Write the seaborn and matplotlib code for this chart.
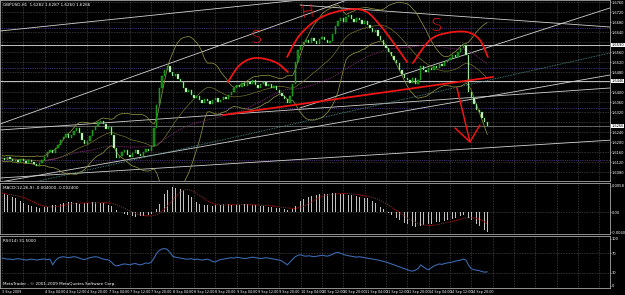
import numpy as np
import pandas as pd
import matplotlib
matplotlib.use("Agg")
import matplotlib.pyplot as plt
import matplotlib.transforms as mtransforms
import seaborn as sns

# ---------------- data (GBPUSD, H1) ----------------
close = [
    1.6138, 1.6130, 1.6142, 1.6134, 1.6126, 1.6130, 1.6122, 1.6134, 1.6126, 1.6118,
    1.6130, 1.6122, 1.6114, 1.6106, 1.6118, 1.6130, 1.6142, 1.6162, 1.6170, 1.6158,
    1.6178, 1.6190, 1.6210, 1.6222, 1.6234, 1.6218, 1.6230, 1.6246, 1.6258, 1.6238,
    1.6210, 1.6194, 1.6206, 1.6226, 1.6250, 1.6266, 1.6282, 1.6286, 1.6274, 1.6254,
    1.6262, 1.6230, 1.6178, 1.6138, 1.6146, 1.6162, 1.6170, 1.6150, 1.6142, 1.6158,
    1.6170, 1.6154, 1.6146, 1.6162, 1.6174, 1.6166, 1.6186, 1.6258, 1.6350, 1.6418,
    1.6466, 1.6490, 1.6506, 1.6482, 1.6466, 1.6474, 1.6454, 1.6442, 1.6418, 1.6402,
    1.6410, 1.6390, 1.6378, 1.6386, 1.6370, 1.6358, 1.6374, 1.6366, 1.6354, 1.6370,
    1.6378, 1.6362, 1.6370, 1.6382, 1.6374, 1.6390, 1.6402, 1.6418, 1.6430, 1.6422,
    1.6438, 1.6426, 1.6442, 1.6434, 1.6450, 1.6430, 1.6418, 1.6434, 1.6442, 1.6426,
    1.6434, 1.6418, 1.6426, 1.6410, 1.6398, 1.6386, 1.6374, 1.6358, 1.6386, 1.6434,
    1.6522, 1.6570, 1.6586, 1.6602, 1.6610, 1.6598, 1.6618, 1.6606, 1.6594, 1.6614,
    1.6622, 1.6610, 1.6598, 1.6606, 1.6634, 1.6666, 1.6686, 1.6698, 1.6682, 1.6702,
    1.6710, 1.6694, 1.6682, 1.6698, 1.6690, 1.6674, 1.6686, 1.6670, 1.6658, 1.6642,
    1.6650, 1.6626, 1.6610, 1.6590, 1.6578, 1.6562, 1.6546, 1.6530, 1.6518, 1.6490,
    1.6474, 1.6458, 1.6450, 1.6438, 1.6458, 1.6434, 1.6450, 1.6506, 1.6490, 1.6482,
    1.6498, 1.6490, 1.6506, 1.6498, 1.6514, 1.6506, 1.6522, 1.6530, 1.6538, 1.6550,
    1.6542, 1.6562, 1.6578, 1.6590, 1.6550, 1.6402, 1.6378, 1.6354, 1.6330, 1.6322,
    1.6298, 1.6282, 1.6266,
]

macd = [
    0.0038, 0.0036, 0.0034, 0.0032, 0.0030, 0.0028,
    0.0024, 0.0022, 0.0018, 0.0016, 0.0014, 0.0012, 0.0010,
    0.0010, 0.0008, 0.0008, 0.0010, 0.0010, 0.0012,
    0.0014, 0.0014, 0.0016, 0.0016, 0.0018, 0.0018, 0.0020, 0.0020, 0.0018, 0.0018,
    0.0016, 0.0016, 0.0018, 0.0018, 0.0020, 0.0020, 0.0020, 0.0020, 0.0018, 0.0018,
    0.0016, 0.0014, 0.0012,
    0.0008, 0.0004, 0.0000, -0.0002, -0.0004,
    -0.0006, -0.0008, -0.0008, -0.0010, -0.0010, -0.0008, -0.0008, -0.0006, -0.0006,
    -0.0004, -0.0002,
    0.0006, 0.0016, 0.0026, 0.0036, 0.0044, 0.0048,
    0.0050, 0.0048, 0.0048, 0.0046, 0.0044,
    0.0040, 0.0034, 0.0030, 0.0024, 0.0020, 0.0016,
    0.0016, 0.0014, 0.0014, 0.0012, 0.0012, 0.0014, 0.0014, 0.0014, 0.0016, 0.0016,
    0.0016, 0.0014, 0.0014, 0.0014, 0.0014, 0.0014, 0.0016, 0.0016, 0.0014, 0.0014,
    0.0014, 0.0012, 0.0012, 0.0012, 0.0012, 0.0010, 0.0010, 0.0010, 0.0008, 0.0008,
    0.0006, 0.0006, 0.0004, 0.0004, 0.0006,
    0.0012, 0.0018, 0.0022, 0.0026, 0.0028, 0.0030, 0.0032, 0.0034, 0.0034, 0.0036,
    0.0036, 0.0036, 0.0036, 0.0038, 0.0038, 0.0038, 0.0038, 0.0036, 0.0036, 0.0036,
    0.0034, 0.0034, 0.0032, 0.0032, 0.0030, 0.0030, 0.0028, 0.0028, 0.0026,
    0.0022, 0.0018, 0.0014, 0.0010, 0.0006, 0.0002,
    -0.0002, -0.0006, -0.0010, -0.0012, -0.0016,
    -0.0018, -0.0022, -0.0024, -0.0026, -0.0028, -0.0030, -0.0030, -0.0028,
    -0.0026, -0.0026, -0.0024, -0.0024, -0.0022, -0.0020, -0.0020, -0.0018, -0.0018,
    -0.0016, -0.0016,
    -0.0014, -0.0012, -0.0010, -0.0008, -0.0006, -0.0008, -0.0012,
    -0.0016, -0.0020, -0.0024, -0.0028, -0.0032, -0.0036, -0.0040,
]

rsi = [
    60, 59, 58, 58, 57, 58, 59, 58, 57, 56, 57, 58, 57, 56, 57, 58, 58, 57, 58,
    46,
    55, 60, 62, 63, 62, 61, 62, 63, 62, 60, 58, 57, 59, 61,
    62, 63, 62, 60, 58, 57, 56, 52, 46,
    44, 45, 47, 48,
    47, 46, 48, 49, 47, 46, 48, 50, 49, 52, 60, 70, 76,
    79, 80, 78, 72, 64, 62,
    61, 60, 59, 58, 58, 59, 57, 58, 57, 56, 57, 58, 56,
    53, 52, 55, 57,
    58, 59, 60, 61, 60, 62, 61, 60, 59, 60, 61, 62, 61, 60, 59, 60, 61, 60, 59, 58, 57, 56,
    54, 50, 46, 52, 58,
    63, 66, 67, 65, 64, 65,
    64, 63, 64, 65, 66, 65, 64, 66, 68,
    71, 72, 70, 68, 66,
    65, 64, 63, 62, 63, 62, 61, 60, 59, 58, 57,
    56, 55, 53, 52, 50, 48, 46,
    44, 42, 40, 38, 36, 34, 33, 35, 38,
    46,
    42, 38, 36,
    40, 44, 46, 48, 47, 49, 50, 51, 52, 54, 55, 56, 58, 56, 45,
    38, 36, 35, 34, 32, 31, 31.5,
]

tick_bars = [0, 16, 24, 32, 40, 48, 56, 64, 72, 80, 88, 96, 104, 112, 120,
             128, 136, 144, 152, 160, 168, 176]
tick_labels = ["3 Sep 2009", "4 Sep 04:00", "4 Sep 12:00", "4 Sep 20:00",
               "7 Sep 04:00", "7 Sep 12:00", "7 Sep 20:00", "8 Sep 04:00",
               "8 Sep 12:00", "8 Sep 20:00", "9 Sep 04:00", "9 Sep 12:00",
               "9 Sep 20:00", "10 Sep 04:00", "10 Sep 12:00", "10 Sep 20:00",
               "11 Sep 04:00", "11 Sep 12:00", "11 Sep 20:00", "14 Sep 04:00",
               "14 Sep 12:00", "14 Sep 20:00"]

price_levels = [1.6590, 1.6446]
pivot_levels = [1.6658, 1.6498, 1.6338, 1.6130]

# trend lines: (bar0, price0, bar1, price1)
trend_lines = [
    (-0.75, 1.6646, 111.7, 1.6770),
    (111.7, 1.6750, 228.0, 1.6662),
    (-0.75, 1.6274, 129.4, 1.6770),
    (111.7, 1.6338, 229.1, 1.6742),
    (-0.75, 1.6250, 228.0, 1.6418),
    (-0.75, 1.6042, 228.0, 1.6470),
    (-0.75, 1.6058, 229.1, 1.6210),
]
channel_line = (10.5, 1.6038, 228.0, 1.6558)

# hand-drawn head & shoulders annotation
ls_bars = [84.7, 89.2, 94.9, 102.4, 107.2]
ls_prices = [1.6442, 1.6510, 1.6538, 1.6522, 1.6482]
head_bars = [106.9, 111.7, 119.2, 128.6, 136.1, 141.7, 147.4, 151.9]
head_prices = [1.6542, 1.6630, 1.6698, 1.6730, 1.6726, 1.6670, 1.6590, 1.6522]
rs_bars = [154.1, 160.5, 166.9, 174.4, 179.2, 182.2]
rs_prices = [1.6518, 1.6610, 1.6638, 1.6642, 1.6610, 1.6542]
neck_bars = [82.9, 184.1]
neck_prices = [1.6310, 1.6462]
arrow_shaft_bars = [170.6, 175.5]
arrow_shaft_prices = [1.6418, 1.6202]
arrow_head_bars = [169.9, 175.5, 179.2]
arrow_head_prices = [1.6258, 1.6202, 1.6270]
letters = [("S", 95.2, 1.6618), ("H", 114.7, 1.6722), ("S", 162.7, 1.6666)]

# ---------------- style ----------------
sns.set_theme(style="dark", rc={
    "axes.facecolor": "black", "figure.facecolor": "black",
    "axes.edgecolor": "#a8a8a8", "text.color": "white",
    "xtick.color": "white", "ytick.color": "white",
})
plt.rcParams["font.family"] = ["Liberation Sans Narrow", "DejaVu Sans"]
SMALL = 3.0
AXIS = 2.6

n = len(close)
idx = np.arange(n)
c = pd.Series(close, dtype=float)
o = c.shift(1)
o.iloc[0] = c.iloc[0]

W, H = 625.0, 295.0
fig = plt.figure(figsize=(6.25, 2.95), dpi=100)


def rect(top, bottom):
    return [0.0, 1 - bottom / H, 610 / W, (bottom - top) / H]


ax = fig.add_axes(rect(0, 181))
axm = fig.add_axes(rect(183, 234))
axr = fig.add_axes(rect(236, 288))

GRID = "#6f6f6f"
for a in (ax, axm, axr):
    a.set_facecolor("black")
    a.set_xlim(-0.75, 228)
    for s in a.spines.values():
        s.set_color("#a8a8a8")
        s.set_linewidth(0.6)
    for b in range(0, 229, 8):
        a.axvline(b, color=GRID, ls=(0, (1, 1.6)), lw=0.45, zorder=0)

# ---------------- main panel ----------------
ax.set_ylim(1.6046, 1.6770)
yt = np.arange(1.6080, 1.6761, 0.0040)
for v in yt:
    ax.axhline(v, color=GRID, ls=(0, (1, 1.6)), lw=0.45, zorder=0)
for v in pivot_levels:
    ax.axhline(v, color="#5c3f98", ls=(0, (1, 1.2)), lw=0.6, zorder=1)
for v in price_levels:
    ax.axhline(v, color="#c4c4c4", lw=0.7, zorder=1)
ax.axhline(close[-1], color="#8c8c8c", lw=0.5, zorder=1)

for b0, p0, b1, p1 in trend_lines:
    ax.plot([b0, b1], [p0, p1], color="#d2d2d2", lw=0.6, zorder=2)
ax.plot([channel_line[0], channel_line[2]], [channel_line[1], channel_line[3]],
        color="#4f9494", lw=0.6, ls=(0, (1, 1)), zorder=2)

mid = c.rolling(20, min_periods=1).mean()
sd = c.rolling(20, min_periods=2).std().bfill()
sma_long = c.rolling(50, min_periods=1).mean()
sns.lineplot(x=idx, y=(mid + 2 * sd).values, ax=ax, color="#8f8f40", lw=0.55, zorder=2)
sns.lineplot(x=idx, y=(mid - 2 * sd).values, ax=ax, color="#8f8f40", lw=0.55, zorder=2)
sns.lineplot(x=idx, y=mid.values, ax=ax, color="#6a6a2a", lw=0.55, zorder=2)
sns.lineplot(x=idx, y=sma_long.values, ax=ax, color="#7a2a6e", lw=0.7,
             ls=(0, (1, 1)), zorder=2)

up = (c >= o).values
body = (c - o).abs().clip(lower=0.00010).values
bot = np.minimum(c.values, o.values)
ax.bar(idx[up], body[up], bottom=bot[up], width=0.6, color="#0d7a0d",
       edgecolor="#28c828", linewidth=0.3, zorder=3)
ax.bar(idx[~up], body[~up], bottom=bot[~up], width=0.6, color="#f4f4f4",
       edgecolor="#28c828", linewidth=0.3, zorder=3)


def catmull(xs, ys, k=14):
    P = np.column_stack([xs, ys]).astype(float)
    P = np.vstack([P[0], P, P[-1]])
    out = []
    for i in range(1, len(P) - 2):
        p0, p1, p2, p3 = P[i - 1], P[i], P[i + 1], P[i + 2]
        for t in np.linspace(0, 1, k, endpoint=False):
            t2, t3 = t * t, t * t * t
            out.append(0.5 * ((2 * p1) + (-p0 + p2) * t +
                              (2 * p0 - 5 * p1 + 4 * p2 - p3) * t2 +
                              (-p0 + 3 * p1 - 3 * p2 + p3) * t3))
    out.append(P[-2])
    out = np.array(out)
    return out[:, 0], out[:, 1]


RED = "#f01414"
for bx, py in ((ls_bars, ls_prices), (head_bars, head_prices), (rs_bars, rs_prices)):
    sx, sy = catmull(bx, py)
    ax.plot(sx, sy, color=RED, lw=1.3, zorder=5, solid_capstyle="round")
ax.plot(neck_bars, neck_prices, color=RED, lw=1.3, zorder=5)
ax.plot(arrow_shaft_bars, arrow_shaft_prices, color=RED, lw=1.1, zorder=5)
ax.plot(arrow_head_bars, arrow_head_prices, color=RED, lw=1.1, zorder=5)
for ch, bx, py in letters:
    ax.text(bx, py, ch, color=RED, fontsize=13, fontfamily="DejaVu Sans",
            fontweight="light", ha="center", va="center",
            rotation=8 if ch == "H" else 0, zorder=6)

ax.set_xticks([])
ax.yaxis.tick_right()
boxed = price_levels + [close[-1]]
yt_shown = [v for v in yt if min(abs(v - b) for b in boxed) > 0.0018]
ax.set_yticks(yt_shown)
ax.set_yticklabels([f"{v:.4f}" for v in yt_shown])
ax.tick_params(axis="y", labelsize=AXIS, length=1.0, pad=0.5, colors="white", width=0.4)

tr = mtransforms.blended_transform_factory(ax.transAxes, ax.transData)
for v in boxed:
    ax.text(1.0025, v, f"{v:.4f}", transform=tr, fontsize=AXIS, color="black",
            va="center", ha="left", clip_on=False, zorder=7,
            bbox=dict(boxstyle="square,pad=0.1", fc="white", ec="none"))

# ---------------- MACD panel ----------------
m = pd.Series(macd, dtype=float)
signal = m.rolling(9, min_periods=1).mean()
axm.set_ylim(-0.0044, 0.0058)
axm.axhline(0, color=GRID, ls=(0, (1, 1.6)), lw=0.45, zorder=0)
axm.bar(idx, m.values, width=0.36, color="#c2c2c2", linewidth=0, zorder=2)
sns.lineplot(x=idx, y=signal.values, ax=axm, color="#a31a1a", lw=0.8,
             ls=(0, (1, 1)), zorder=3)
axm.set_xticks([])
axm.yaxis.tick_right()
axm.set_yticks([0.0053, 0.0, -0.0040])
axm.set_yticklabels(["0.0058", "0.00", "-0.0040"])
axm.tick_params(axis="y", labelsize=AXIS, length=1.0, pad=0.5, colors="white", width=0.4)

# ---------------- RSI panel ----------------
axr.set_ylim(-2, 106)
for v in (30, 70):
    axr.axhline(v, color=GRID, ls=(0, (1, 1.6)), lw=0.45, zorder=0)
sns.lineplot(x=idx, y=rsi, ax=axr, color="#3a68ae", lw=0.8, zorder=3)
axr.yaxis.tick_right()
axr.set_yticks([3, 30, 70, 100])
axr.set_yticklabels(["0", "30", "70", "100"])
axr.tick_params(axis="y", labelsize=AXIS, length=1.0, pad=0.5, colors="white", width=0.4)
axr.set_xticks(tick_bars)
axr.set_xticklabels(tick_labels, ha="left", fontsize=2.4)
axr.tick_params(axis="x", length=1.5, pad=0.3, colors="white", width=0.4)
for a in (ax, axm, axr):
    a.set_xlabel("")
    a.set_ylabel("")

# ---------------- texts ----------------
fig.text(3 / W, 1 - 3 / H, "GBPUSD,H1  1.6282 1.6287 1.6260 1.6266",
         fontsize=SMALL, color="white", va="top", ha="left")
fig.text(3 / W, 1 - 186 / H,
         f"MACD(12,26,9) {macd[-1]:.6f} {signal.iloc[-1]:.6f}",
         fontsize=SMALL, color="white", va="top", ha="left")
fig.text(3 / W, 1 - 239 / H, f"RSI(14) {rsi[-1]:.4f}",
         fontsize=SMALL, color="white", va="top", ha="left")
fig.text(3 / W, 1 - 282 / H, "MetaTrader - © 2001-2009 MetaQuotes Software Corp.",
         fontsize=SMALL, color="white", va="top", ha="left")

fig.savefig("out.png", dpi=100, facecolor="black")
